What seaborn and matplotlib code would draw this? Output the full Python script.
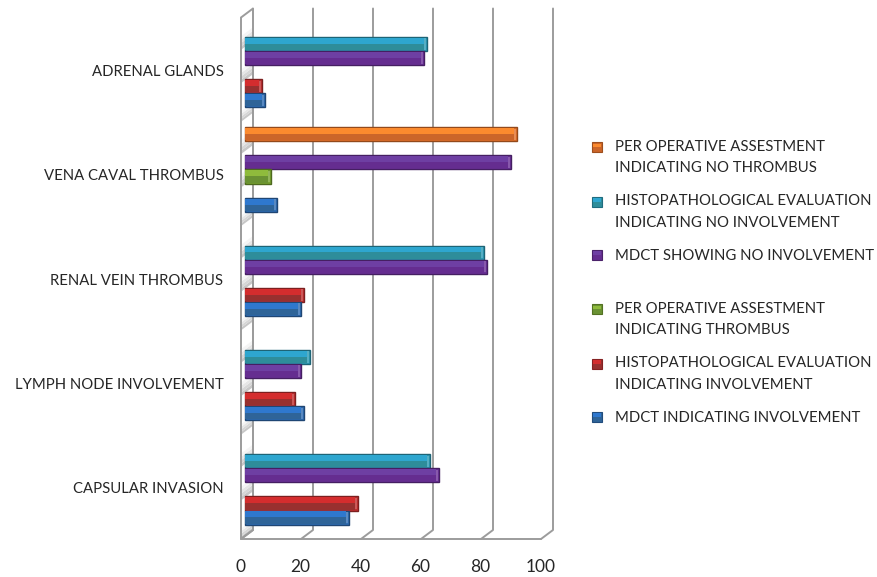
import matplotlib
matplotlib.use("Agg")
import matplotlib.pyplot as plt
import matplotlib.transforms as mtransforms
from matplotlib.colors import to_hex, to_rgb
from matplotlib.legend_handler import HandlerBase
from matplotlib.patches import Patch, Polygon, Rectangle
import numpy as np
import pandas as pd
import seaborn as sns

# Findings per site (percent of cases)
sites = ["ADRENAL GLANDS", "VENA CAVAL THROMBUS", "RENAL VEIN THROMBUS",
         "LYMPH NODE INVOLVEMENT", "CAPSULAR INVASION"]
perop_no = [None, 90, None, None, None]
histo_no = [60, None, 79, 21, 61]
mdct_no = [59, 88, 80, 18, 64]
perop_yes = [None, 8, None, None, None]
histo_yes = [5, None, 19, 16, 37]
mdct_yes = [6, 10, 18, 19, 34]

series_names = [
    "PER OPERATIVE ASSESTMENT\nINDICATING NO THROMBUS",
    "HISTOPATHOLOGICAL EVALUATION\nINDICATING NO INVOLVEMENT",
    "MDCT SHOWING NO INVOLVEMENT",
    "PER OPERATIVE ASSESTMENT\nINDICATING THROMBUS",
    "HISTOPATHOLOGICAL EVALUATION\nINDICATING INVOLVEMENT",
    "MDCT INDICATING INVOLVEMENT",
]
series_values = [perop_no, histo_no, mdct_no, perop_yes, histo_yes, mdct_yes]
series_colors = ["#E2702A", "#2C9AB5", "#6A3097", "#77A230", "#BE2F30", "#2F6CB2"]
series_light = ["#FB8A2E", "#2EA6CF", "#6E3FA3", "#8FBB3C", "#D42D2E", "#2F78CE"]
series_dark = ["#CB6529", "#2E8D9A", "#652D90", "#6A9233", "#98302F", "#2F6498"]
value_ticks = [0, 20, 40, 60, 80, 100]

FIG_W, FIG_H = 877, 577
TEXT_FAMILY = ["Lato", "DejaVu Sans"]
TEXT_COLOR = "#262626"
WALL_COLOR = "#9C9C9C"

rows = [
    {"site": site, "series": name, "value": value}
    for name, values in zip(series_names, series_values)
    for site, value in zip(sites, values)
]
frame = pd.DataFrame(rows)
frame["value"] = pd.to_numeric(frame["value"])

sns.set_theme(style="white")
plt.rcParams["font.family"] = TEXT_FAMILY

fig = plt.figure(figsize=(FIG_W / 100, FIG_H / 100), dpi=100)
ax = fig.add_axes([247 / FIG_W, 1 - 534.5 / FIG_H, 300 / FIG_W, 521.5 / FIG_H])

sns.barplot(
    data=frame, y="site", x="value", hue="series", order=sites,
    hue_order=series_names, palette=series_colors, saturation=1, width=0.81,
    orient="h", legend=False, ax=ax, zorder=5,
)
ax.set_xlim(0, 100)
ax.set_ylim(4.5, -0.5)
ax.set_xlabel("")
ax.set_ylabel("")
sns.despine(ax=ax, left=True, bottom=True)


def shifted(dx, dy):
    """Data transform moved by a depth offset given in pixels."""
    return ax.transData + mtransforms.Affine2D().translate(dx, dy)


# Pseudo-3D box: back wall, floor and left side wall
back = shifted(6, 4.5)
front = shifted(-6, -4.5)
y_low, y_high = 4.5, -0.5
identity = mtransforms.IdentityTransform()


def px_point(x, y, depth):
    return depth.transform((x, y))


def wall_band(y_a, y_b, **style):
    return Polygon(
        [px_point(0, y_a, front), px_point(0, y_b, front),
         px_point(0, y_b, back), px_point(0, y_a, back)],
        closed=True, transform=identity, **style,
    )


fig.add_artist(wall_band(y_low, y_high, facecolor="white", edgecolor="none", zorder=1))

# Soft shading on the side wall, fading upwards from each group of bars
for pos in range(len(sites)):
    for start, extent in ((-0.19, 0.13), (0.13, 0.13), (0.5, 0.10)):
        for step, level in enumerate((0.78, 0.84, 0.90, 0.96)):
            ya = pos + start - extent * step / 4
            yb = pos + start - extent * (step + 1) / 4
            fig.add_artist(wall_band(ya, yb, facecolor=(level, level, level),
                                     edgecolor="none", zorder=1.5))
fig.add_artist(wall_band(y_low, y_high, facecolor="none", edgecolor=WALL_COLOR,
                         linewidth=1.4, zorder=1.8))

for tick in value_ticks:
    p_front = px_point(tick, y_low, front)
    p_back = px_point(tick, y_low, back)
    p_top = px_point(tick, y_high, back)
    fig.add_artist(plt.Line2D([p_front[0], p_back[0], p_top[0]],
                              [p_front[1], p_back[1], p_top[1]],
                              color=WALL_COLOR, linewidth=1.4, transform=identity, zorder=2))
floor_a, floor_b = px_point(0, y_low, front), px_point(100, y_low, front)
fig.add_artist(plt.Line2D([floor_a[0], floor_b[0]], [floor_a[1], floor_b[1]],
                          color=WALL_COLOR, linewidth=1.4, transform=identity, zorder=2))
ax.patch.set_alpha(0)
ax.set_zorder(3)


def tint(color, amount):
    rgb = np.array(to_rgb(color))
    target = 1.0 if amount > 0 else 0.0
    return tuple(rgb + (target - rgb) * abs(amount))


light_of = {to_hex(c): v for c, v in zip(series_colors, series_light)}
dark_of = {to_hex(c): v for c, v in zip(series_colors, series_dark)}

# Bevel on every bar: lighter top band, darker lower band and a raised end cap
FRONT_LIP = 0.7
for bar in list(ax.patches):
    x0, y0 = bar.get_x(), bar.get_y()
    w, h = bar.get_width(), bar.get_height()
    if not np.isfinite(w):
        continue
    base = bar.get_facecolor()
    key = to_hex(base)
    bar.set_x(x0 - FRONT_LIP)
    bar.set_width(w + FRONT_LIP)
    bar.set_edgecolor(tint(base, -0.35))
    bar.set_linewidth(1.0)
    bar.set_clip_on(False)
    left = x0 - FRONT_LIP
    run = w + FRONT_LIP - 1.0
    ax.add_patch(Rectangle((left, y0 + h * 0.07), run, h * 0.42, facecolor=light_of[key],
                           edgecolor="none", zorder=6, clip_on=False))
    ax.add_patch(Rectangle((left, y0 + h * 0.49), run, h * 0.44, facecolor=dark_of[key],
                           edgecolor="none", zorder=6, clip_on=False))
    ax.add_patch(Rectangle((x0 + w - 1.0, y0 + h * 0.1), 0.7, h * 0.8,
                           facecolor=tint(base, 0.2), edgecolor="none", zorder=6, clip_on=False))

# Axis labels
ax.set_xticks(value_ticks)
ax.set_xticklabels([str(t) for t in value_ticks], fontsize=12.5, color=TEXT_COLOR)
ax.tick_params(axis="x", length=0, pad=18)
ax.tick_params(axis="y", length=0, pad=17, labelsize=10.7, labelcolor=TEXT_COLOR)
for label in ax.get_xticklabels():
    label.set_transform(label.get_transform() + mtransforms.Affine2D().translate(-6.5, 0))
for label in ax.get_yticklabels():
    label.set_transform(label.get_transform() + mtransforms.Affine2D().translate(0, -5.5))

KEY_SIDE = 7.2
LINE_SHIFT = 7.6


class BevelHandler(HandlerBase):
    """Small square key with the same light and dark bands as the bars."""

    def create_artists(self, legend, orig, xd, yd, width, height, fontsize, trans):
        color = orig.get_facecolor()
        key = to_hex(color)
        lift = LINE_SHIFT if "\n" in orig.get_label() else 0
        x, y = -xd, -yd + (height - KEY_SIDE) / 2 + lift
        return [
            Rectangle((x, y), KEY_SIDE, KEY_SIDE, facecolor=dark_of[key],
                      edgecolor=tint(color, -0.3), linewidth=0.8, transform=trans),
            Rectangle((x + 1, y + KEY_SIDE * 0.5), KEY_SIDE - 2, KEY_SIDE * 0.38,
                      facecolor=light_of[key], edgecolor="none", transform=trans),
        ]


handles = [Patch(facecolor=c, label=n) for c, n in zip(series_colors, series_names)]


def key_block(items, top_px):
    block = fig.legend(
        handles=items, loc="upper left",
        bbox_to_anchor=(592 / FIG_W, 1 - top_px / FIG_H), frameon=False,
        fontsize=10.7, labelcolor=TEXT_COLOR, handler_map={Patch: BevelHandler()},
        handlelength=1.02, handletextpad=0.55, labelspacing=1.27,
        borderpad=0, borderaxespad=0,
    )
    for text in block.get_texts():
        text.set_linespacing(1.68)
    return block


key_block(handles[:3], 140)
key_block(handles[3:], 302)

fig.savefig("out.png", dpi=100)
